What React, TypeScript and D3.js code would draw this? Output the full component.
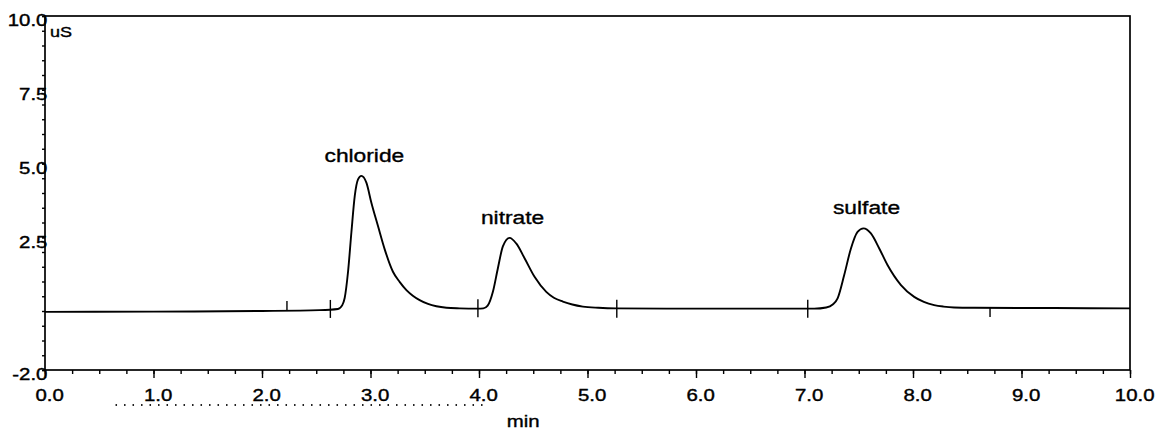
import React from 'react'
import * as d3 from 'd3'

// chromatogram trace (time in min, conductivity in uS)
const traceTime = [
    0.0, 1.0, 2.0, 2.53, 2.70, 2.74, 2.762, 2.793, 2.824, 2.855, 2.885, 2.916, 2.962, 3.008, 3.069,
    3.131, 3.207, 3.27, 3.331, 3.39, 3.453, 3.53, 3.607, 3.70, 3.821, 3.987,
    4.04, 4.08, 4.128, 4.174, 4.220, 4.282, 4.343, 4.420, 4.512, 4.620, 4.69, 4.773, 4.86, 4.957, 5.10,
    5.264, 6.0, 7.0,
    7.09, 7.20, 7.26, 7.305, 7.366, 7.428, 7.489, 7.544, 7.612, 7.689, 7.765, 7.889, 8.011, 8.10, 8.195,
    8.28, 8.379, 8.564, 9.3, 10.0
]
const traceValue = [
    -0.03, -0.02, 0.0, 0.03, 0.07, 0.2, 0.44, 1.33, 2.67, 3.90, 4.46, 4.58, 4.35, 3.67, 2.88,
    2.09, 1.33, 0.98, 0.71, 0.52, 0.37, 0.24, 0.16, 0.11, 0.09, 0.08,
    0.09, 0.18, 0.65, 1.45, 2.19, 2.48, 2.29, 1.79, 1.16, 0.65, 0.45, 0.32, 0.22, 0.15, 0.11,
    0.09, 0.08, 0.08,
    0.08, 0.12, 0.22, 0.43, 1.22, 2.12, 2.68, 2.80, 2.63, 2.12, 1.56, 0.88, 0.48, 0.31, 0.20,
    0.15, 0.12, 0.11, 0.10, 0.09
]

const peakNames = ['chloride', 'nitrate', 'sulfate']
const peakTimes = [2.916, 4.282, 7.544]
const peakHeights = [4.58, 2.48, 2.80]

// integration marks on the baseline
const markerTimes = [2.23, 2.63, 3.99, 5.27, 7.03, 8.71]
const markerSides = ['up', 'both', 'both', 'both', 'both', 'down']

const xTickLabels = [0, 1, 2, 3, 4, 5, 6, 7, 8, 9, 10]
const yTickLabels = [10.0, 7.5, 5.0, 2.5, -2.0]

export default class App extends React.Component {
    svgRef = React.createRef<SVGSVGElement>()

    drawChart() {
        const width = 1165, height = 435
        const svg = d3.select(this.svgRef.current)
        svg.selectAll('*').remove()
        svg.append('rect').attr('width', width).attr('height', height).attr('fill', 'white')

        const font = '"Liberation Sans", Arial, sans-serif'
        const stretch = 'scale(1.2,1)'

        const x = d3.scaleLinear().domain([0, 10]).range([45, 1130])
        const y = d3.scaleLinear().domain([-2, 10]).range([370, 16])

        // minor ticks
        const yMinor = svg.append('g').attr('transform', 'translate(' + x(0) + ',0)')
            .call(d3.axisLeft(y).tickValues(d3.range(-2, 10.01, 0.5)).tickSize(3).tickFormat(() => ''))
        const xMinor = svg.append('g').attr('transform', 'translate(0,' + y(-2) + ')')
            .call(d3.axisBottom(x).tickValues(d3.range(0, 10.01, 0.25)).tickSize(4).tickFormat(() => ''))

        // labelled ticks
        const yAxis = svg.append('g').attr('transform', 'translate(' + x(0) + ',0)')
            .call(d3.axisLeft(y).tickValues(yTickLabels).tickSize(3).tickPadding(-5)
                .tickFormat((d: any) => (+d).toFixed(1)))
        const xAxis = svg.append('g').attr('transform', 'translate(0,' + y(-2) + ')')
            .call(d3.axisBottom(x).tickValues(xTickLabels).tickSize(8).tickPadding(11)
                .tickFormat((d: any) => (+d).toFixed(1)))

        for (const g of [yMinor, xMinor, yAxis, xAxis]) {
            g.select('.domain').remove()
            g.selectAll('line').attr('stroke', '#000').attr('stroke-width', 1.4)
        }
        for (const g of [yAxis, xAxis]) {
            g.selectAll('text').attr('font-size', 17).attr('font-family', font)
                .attr('fill', '#000').attr('stroke', '#000').attr('stroke-width', 0.4)
                .attr('transform', stretch)
        }
        yAxis.selectAll('text').attr('dy', '0.58em')
        xAxis.selectAll('text').attr('dx', 3.5)

        // frame
        svg.append('rect')
            .attr('x', x(0)).attr('y', y(10))
            .attr('width', x(10) - x(0)).attr('height', y(-2) - y(10))
            .attr('fill', 'none').attr('stroke', '#000').attr('stroke-width', 1.7)

        // trace
        const points = traceTime.map((t, i) => [t, traceValue[i]] as [number, number])
        const line = d3.line<[number, number]>()
            .x(d => x(d[0])).y(d => y(d[1]))
            .curve(d3.curveMonotoneX)
        svg.append('path').datum(points)
            .attr('d', line)
            .attr('fill', 'none').attr('stroke', '#000').attr('stroke-width', 1.9)
            .attr('stroke-linejoin', 'round')

        // baseline marks
        const bisect = d3.bisector((d: [number, number]) => d[0]).left
        markerTimes.forEach((t, i) => {
            const j = Math.min(bisect(points, t), points.length - 1)
            const yy = y(points[j][1])
            const side = markerSides[i]
            const top = side === 'down' ? yy : yy - 9
            const bottom = side === 'up' ? yy : yy + 9
            svg.append('line')
                .attr('x1', x(t)).attr('x2', x(t)).attr('y1', top).attr('y2', bottom)
                .attr('stroke', '#000').attr('stroke-width', 1.4)
        })

        const label = (tx: number, ty: number, size: number, anchor: string, s: string) =>
            svg.append('text')
                .attr('transform', 'translate(' + tx + ',' + ty + ') ' + stretch)
                .attr('text-anchor', anchor)
                .attr('font-size', size).attr('font-family', font)
                .attr('fill', '#000').attr('stroke', '#000').attr('stroke-width', 0.35)
                .text(s)

        // peak names
        peakNames.forEach((name, i) => {
            label(x(peakTimes[i]) + 3, y(peakHeights[i]) - 14, 19, 'middle', name)
        })

        // units
        label(x(0) + 5, y(10) + 21, 15, 'start', 'uS')
        label((x(4) + x(5)) / 2 - 10, 427, 17, 'middle', 'min')

        // scan dots under the axis labels
        svg.append('line')
            .attr('x1', x(0.65)).attr('x2', x(4.05)).attr('y1', 405).attr('y2', 405)
            .attr('stroke', '#222').attr('stroke-width', 1.8).attr('stroke-dasharray', '1.5 7')
    }

    componentDidMount() {
        this.drawChart()
    }

    render() {
        return <div style={{ position: 'absolute', left: 0, top: 0 }}>
            <svg ref={this.svgRef} width={1165} height={435} style={{ display: 'block' }} />
        </div>
    }
}
